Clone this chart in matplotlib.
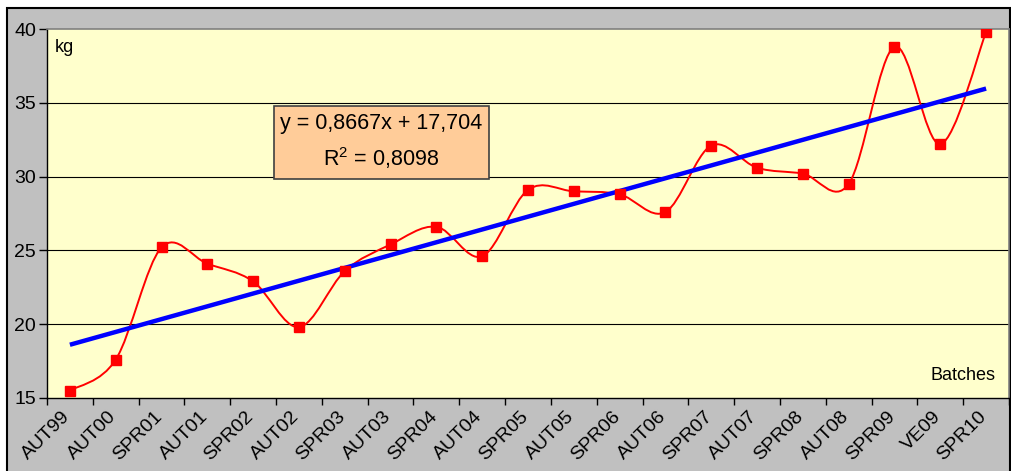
import matplotlib.pyplot as plt
import matplotlib.transforms as mtransforms
import numpy as np
from matplotlib.path import Path
from matplotlib.patches import PathPatch, Rectangle

plt.rcParams['font.family'] = ['Liberation Sans', 'DejaVu Sans']

batches = ["AUT99", "AUT00", "SPR01", "AUT01", "SPR02", "AUT02", "SPR03",
           "AUT03", "SPR04", "AUT04", "SPR05", "AUT05", "SPR06", "AUT06",
           "SPR07", "AUT07", "SPR08", "AUT08", "SPR09", "VE09", "SPR10"]
weights = [15.5, 17.6, 25.2, 24.1, 22.9, 19.8, 23.6, 25.4, 26.6, 24.6, 29.1,
           29.0, 28.8, 27.6, 32.1, 30.6, 30.2, 29.5, 38.8, 32.2, 39.8]
yticks = [15, 20, 25, 30, 35, 40]

x = np.arange(1, len(batches) + 1)
y = np.array(weights)

fig = plt.figure(figsize=(10.11, 4.71), dpi=100)
fig.patches.append(Rectangle((7 / 1011, -0.05), 1003 / 1011, 463 / 471 + 0.05,
                             transform=fig.transFigure, facecolor='#C0C0C0',
                             edgecolor='black', lw=1.5, zorder=-1))
ax = fig.add_axes([47 / 1011, 73 / 471, 962 / 1011, 369 / 471])
ax.set_facecolor('#FFFFCC')

# smoothed line (bezier through the points, like excel)
pts = np.column_stack([x, y])
ext = np.vstack([pts[0], pts, pts[-1]])
verts = [pts[0]]
codes = [Path.MOVETO]
for i in range(len(pts) - 1):
    p0, p1, p2, p3 = ext[i], ext[i + 1], ext[i + 2], ext[i + 3]
    verts += [p1 + (p2 - p0) / 6, p2 - (p3 - p1) / 6, p2]
    codes += [Path.CURVE4] * 3
ax.add_patch(PathPatch(Path(verts, codes), facecolor='none', edgecolor='red',
                       lw=1.4, zorder=3))

# trend line
k, b = np.polyfit(x, y, 1)
ax.plot(x, k * x + b, color='#0000FF', lw=3.2, zorder=4, solid_capstyle='butt')

ax.plot(x, y, 's', color='red', markersize=7.8, zorder=5)

ax.set_xlim(0.5, len(batches) + 0.5)
ax.set_ylim(15, 40)
ax.set_yticks(yticks)
ax.set_yticklabels([str(t) for t in yticks], fontsize=14)
for t in yticks[1:-1]:
    ax.axhline(t, color='black', lw=0.8, zorder=1)

ax.set_xticks(x)
ax.set_xticklabels(batches, rotation=45, ha='right', va='top',
                   rotation_mode='anchor', fontsize=14)
ax.tick_params(axis='x', length=0, pad=7)
shift = mtransforms.ScaledTranslation(-8 / 100, 0, fig.dpi_scale_trans)
for lab in ax.get_xticklabels():
    lab.set_transform(lab.get_transform() + shift)
ax.set_xticks(np.arange(0.5, len(batches) + 1), minor=True)
ax.tick_params(axis='x', which='minor', length=5, width=1, color='black')
ax.tick_params(axis='y', length=6, width=1, pad=2)

for s in ['top', 'right']:
    ax.spines[s].set_color('#808080')
    ax.spines[s].set_linewidth(1.2)
for s in ['left', 'bottom']:
    ax.spines[s].set_color('black')
    ax.spines[s].set_linewidth(1)

ax.text(0.008, 0.95, "kg", transform=ax.transAxes, fontsize=13,
        ha='left', va='center')
ax.text(0.986, 0.06, "Batches", transform=ax.transAxes, fontsize=13,
        ha='right', va='center')

# equation box
ax.add_patch(Rectangle((0.236, 0.5935), 0.2235, 0.1978, transform=ax.transAxes,
                       facecolor='#FFCC99', edgecolor='#404040', lw=1.2,
                       zorder=6))
ax.text(0.3475, 0.743, "y = 0,8667x + 17,704", transform=ax.transAxes,
        fontsize=15.5, ha='center', va='center', zorder=7)
ax.text(0.3475, 0.650, "$\\mathregular{R^2}$ = 0,8098", transform=ax.transAxes,
        fontsize=15.5, ha='center', va='center', zorder=7)

fig.savefig('out.png', dpi=100, facecolor='white')
